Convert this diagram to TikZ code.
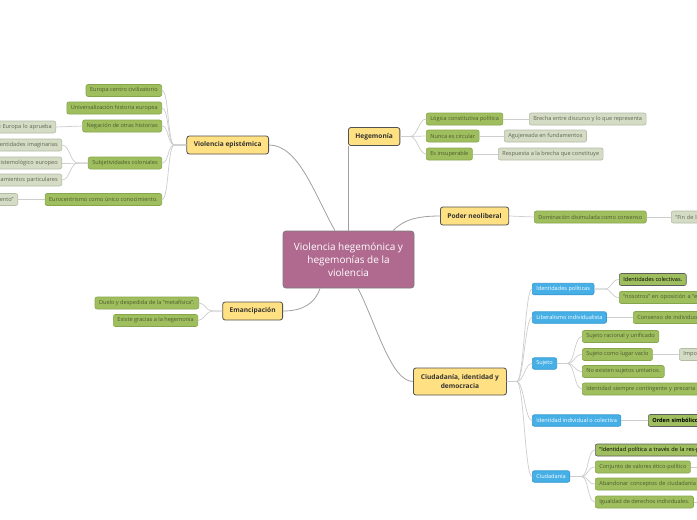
\documentclass[tikz,border=0pt]{standalone}
\usepackage{fontspec}
\setmainfont{Open Sans}
\definecolor{ink}{HTML}{333333}
\definecolor{rootfill}{HTML}{B06A8F}
\definecolor{rootdraw}{HTML}{7D7D7D}
\definecolor{topicfill}{HTML}{FFE082}
\definecolor{leaffill}{HTML}{9FBF5F}
\definecolor{leafdraw}{HTML}{86A64C}
\definecolor{leaftext}{HTML}{4B5A2E}
\definecolor{palefill}{HTML}{D4DCC5}
\definecolor{paledraw}{HTML}{B3BCA5}
\definecolor{paletext}{HTML}{5F6652}
\definecolor{skyfill}{HTML}{45AFE6}
\definecolor{skydraw}{HTML}{3598D0}
\definecolor{wiregray}{HTML}{A0A0A0}
\definecolor{twiggray}{HTML}{CDCDCD}

\begin{document}
\begin{tikzpicture}[x=1pt,y=-1pt,
  wire/.style={draw=wiregray,line width=.8pt},
  twig/.style={draw=twiggray,line width=.7pt},
  root/.style={draw=rootdraw,fill=rootfill,rounded corners=3pt,line width=.8pt,
    text=white,align=center,minimum width=131pt,minimum height=57pt,
    font=\fontsize{10}{12.8}\selectfont},
  topic/.style={draw=ink!85,fill=topicfill,rounded corners=2.5pt,line width=.8pt,
    text=ink,minimum height=18pt,inner xsep=7pt,
    font=\fontsize{6.6}{8.4}\selectfont\bfseries},
  leaf/.style={draw=leafdraw,fill=leaffill,rounded corners=2pt,line width=.6pt,
    text=leaftext,minimum height=12pt,inner xsep=4pt,inner ysep=1pt,
    font=\fontsize{5.6}{6.5}\selectfont},
  leafdark/.style={leaf,draw=ink!80,text=black},
  pale/.style={leaf,draw=paledraw,fill=palefill,text=paletext},
  sky/.style={leaf,draw=skydraw,fill=skyfill,text=white,minimum height=11.5pt},
  cutl/.style={text width=#1,align=right},
  cutr/.style={text width=#1,align=left}]

  \fill[white] (0,0) rectangle (697,520);
  \useasboundingbox (0,0) rectangle (697,520);

  % main ideas round the root
  \node[root] (root) at (348.5,259.5)
    {Violencia hegemónica y\\hegemonías de la\\violencia};
  \node[topic,anchor=east] (vepi) at (269,145) {Violencia epistémica};
  \node[topic,anchor=west] (hege) at (348,136.5) {Hegemonía};
  \node[topic,anchor=west] (poder) at (440,216) {Poder neoliberal};
  \node[topic,anchor=east] (emanc) at (283,311) {Emancipación};
  \node[topic,anchor=west,align=center,minimum height=27pt,minimum width=93pt] (ciuda) at (413,381.5)
    {Ciudadanía, identidad y\\democracia};

  \draw[wire] ([xshift=-13.5pt]root.north) .. controls +(-20,-35) and +(30,0) .. (vepi.east);
  \draw[wire] (hege.south west) -- (hege.south west |- root.north);
  \draw[wire] ([xshift=44.5pt]root.north) .. controls +(10,-10) and +(-25,0) .. (poder.west);
  \draw[wire] ([xshift=-28.5pt]root.south) .. controls +(-5,15) and +(20,0) .. (emanc.east);
  \draw[wire] ([xshift=9.5pt]root.south) .. controls +(18,35) and +(-22,0) .. (ciuda.west);

  % Violencia epistémica
  \node[leaf,anchor=east] (eur) at (162,90.5) {Europa centro civilizatorio};
  \node[leaf,anchor=east] (univ) at (162,108) {Universalización historia europea};
  \node[leaf,anchor=east] (neg) at (162,126) {Negación de otras historias};
  \node[leaf,anchor=east] (subj) at (162,163) {Subjetividades coloniales};
  \node[leaf,anchor=east] (euroc) at (162,199.5) {Eurocentrismo como único conocimiento.};
  \node[pale,anchor=east,cutl=70pt] (negx) at (56,127) {si Europa lo aprueba};
  \node[pale,anchor=east,cutl=70pt] (subj1) at (62,145) {Identidades imaginarias};
  \node[pale,anchor=east,cutl=70pt] (subj2) at (62,163) {epistemológico europeo};
  \node[pale,anchor=east,cutl=70pt] (subj3) at (62,180) {Pensamientos particulares};
  \node[pale,anchor=east,cutl=40pt] (eurocx) at (18,199.5) {conocimiento”};

  \foreach \kid in {eur,univ,neg,subj,euroc}
    \draw[twig] (vepi.west) -- ++(-12,0) .. controls +(-7,0) and +(7,0) .. (\kid.east);
  \foreach \kid in {subj1,subj2,subj3}
    \draw[twig] (subj.west) -- ++(-10,0) .. controls +(-8,0) and +(8,0) .. (\kid.east);
  \draw[twig] (neg.west) -- (negx.east);
  \draw[twig] (euroc.west) -- (eurocx.east);

  % Hegemonía
  \node[leaf,anchor=west] (logica) at (426,119) {Lógica constitutiva política};
  \node[leaf,anchor=west] (nunca) at (426,136) {Nunca es circular};
  \node[leaf,anchor=west] (insup) at (426,154) {Es insuperable};
  \node[pale,anchor=west] (brecha) at (529,119) {Brecha entre discurso y lo que representa};
  \node[pale,anchor=west] (aguj) at (504,136) {Agujereada en fundamentos};
  \node[pale,anchor=west] (resp) at (498,154) {Respuesta a la brecha que constituye};

  \foreach \kid in {logica,nunca,insup}
    \draw[twig] (hege.east) -- ++(10,0) .. controls +(7,0) and +(-7,0) .. (\kid.west);
  \draw[twig] (logica.east) -- (brecha.west);
  \draw[twig] (nunca.east) -- (aguj.west);
  \draw[twig] (insup.east) -- (resp.west);

  % Poder neoliberal
  \node[leaf,anchor=west] (domin) at (534,217) {Dominación disimulada como consenso};
  \node[pale,anchor=west,cutr=60pt] (finh) at (671,217) {“Fin de la historia”};
  \draw[twig] (poder.east) -- (domin.west);
  \draw[twig] (domin.east) -- (finh.west);

  % Emancipación
  \node[leaf,anchor=east] (duelo) at (199,303) {Duelo y despedida de la “metafísica”.};
  \node[leaf,anchor=east] (existe) at (198,320.5) {Existe gracias a la hegemonía};
  \foreach \kid in {duelo,existe}
    \draw[twig] (emanc.west) -- ++(-10,0) .. controls +(-6,0) and +(6,0) .. (\kid.east);

  % Ciudadanía, identidad y democracia
  \node[sky,anchor=west] (idpol) at (532,289) {Identidades políticas};
  \node[sky,anchor=west] (liber) at (532,317.5) {Liberalismo individualista};
  \node[sky,anchor=west] (sujeto) at (532,363.5) {Sujeto};
  \node[sky,anchor=west] (idind) at (532,420.5) {Identidad individual o colectiva};
  \node[sky,anchor=west] (ciudn) at (532,476.5) {Ciudadanía};
  \foreach \kid in {idpol,liber,sujeto,idind,ciudn}
    \draw[twig] (ciuda.east) -- ++(10,0) .. controls +(7,0) and +(-7,0) .. (\kid.west);

  \node[leafdark,anchor=west] (idcol) at (619,279.5) {Identidades colectivas.};
  \node[leaf,anchor=west,cutr=110pt] (nosot) at (619,297.5) {“nosotros” en oposición a “ellos”};
  \foreach \kid in {idcol,nosot}
    \draw[twig] (idpol.east) -- ++(10,0) .. controls +(8,0) and +(-8,0) .. (\kid.west);

  \node[leaf,anchor=west,cutr=80pt] (consen) at (633,317.5) {Consenso de individuos};
  \draw[twig] (liber.east) -- (consen.west);

  \node[leaf,anchor=west] (sracion) at (582,336.5) {Sujeto racional y unificado};
  \node[leaf,anchor=west] (svacio) at (582,354.5) {Sujeto como lugar vacío};
  \node[leaf,anchor=west] (noexist) at (582,371.5) {No existen sujetos unitarios.};
  \node[leaf,anchor=west,cutr=130pt] (contin) at (582,389) {Identidad siempre contingente y precaria};
  \node[pale,anchor=west,cutr=60pt] (impo) at (679,354.5) {Imposibilidad};
  \foreach \kid in {sracion,svacio,noexist,contin}
    \draw[twig] (sujeto.east) -- ++(10,0) .. controls +(8,0) and +(-8,0) .. (\kid.west);
  \draw[twig] (svacio.east) -- (impo.west);

  \node[leafdark,anchor=west,cutr=70pt,font=\fontsize{5.6}{6.5}\selectfont\bfseries] (orden) at (648,420.5) {Orden simbólico};
  \draw[twig] (idind.east) -- (orden.west);

  \node[leafdark,anchor=west,cutr=150pt] (respub) at (595,450) {“Identidad política a través de la res-publica”};
  \node[leaf,anchor=west] (conjunto) at (595,467) {Conjunto de valores ético-político};
  \node[leaf,anchor=west,cutr=130pt] (abandon) at (595,484) {Abandonar conceptos de ciudadanía a};
  \node[leaf,anchor=west] (igual) at (595,502) {Igualdad de derechos individuales.};
  \coordinate (conjx) at (720,467);
  \coordinate (igualx) at (720,502);
  \foreach \kid in {respub,conjunto,abandon,igual}
    \draw[twig] (ciudn.east) -- ++(11,0) .. controls +(8,0) and +(-8,0) .. (\kid.west);
  \draw[twig] (conjunto.east) -- (conjx);
  \draw[twig] (igual.east) -- (igualx);
\end{tikzpicture}
\end{document}
